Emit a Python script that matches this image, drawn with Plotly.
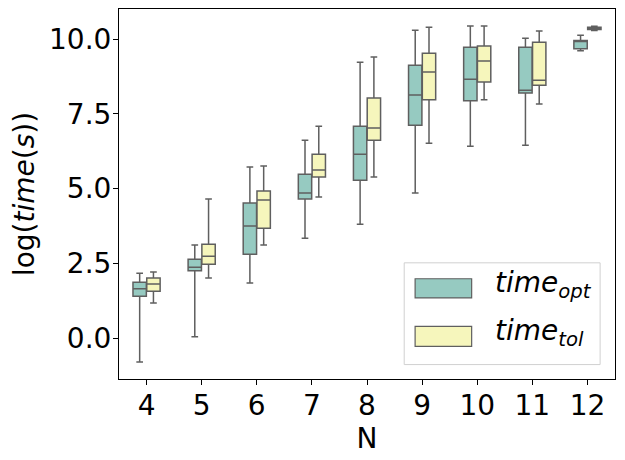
import plotly.graph_objects as go

# box statistics (log of time in seconds)
n_values = ["4", "5", "6", "7", "8", "9", "10", "11", "12"]

opt_low = [-0.80, 0.04, 1.84, 3.34, 3.81, 4.85, 6.42, 6.45, 9.61]
opt_q1 = [1.40, 2.25, 2.80, 4.65, 5.28, 7.12, 7.94, 8.20, 9.68]
opt_med = [1.65, 2.37, 3.75, 4.85, 6.15, 8.13, 8.66, 8.29, 9.92]
opt_q3 = [1.87, 2.64, 4.52, 5.48, 7.09, 9.13, 9.73, 9.73, 9.96]
opt_high = [2.17, 3.11, 5.72, 6.62, 9.23, 10.30, 10.44, 10.03, 10.13]

tol_low = [1.17, 2.01, 3.11, 4.72, 5.39, 6.52, 7.97, 7.83, 10.29]
tol_q1 = [1.57, 2.47, 3.67, 5.39, 6.62, 7.97, 8.57, 8.46, 10.32]
tol_med = [1.81, 2.74, 4.62, 5.62, 7.03, 8.90, 9.27, 8.63, 10.36]
tol_q3 = [2.01, 3.14, 4.92, 6.15, 8.03, 9.53, 9.77, 9.90, 10.40]
tol_high = [2.21, 4.65, 5.76, 7.09, 9.40, 10.40, 10.44, 10.27, 10.43]

y_ticks = [0, 2.5, 5, 7.5, 10]

opt_color = "#96cac1"
tol_color = "#f6f6bc"
edge_color = "#5f5f5f"
font_family = "DejaVu Sans"
font_size = 28

fig = go.Figure()

fig.add_trace(go.Box(x=n_values, q1=opt_q1, median=opt_med, q3=opt_q3,
                     lowerfence=opt_low, upperfence=opt_high,
                     name="opt", offsetgroup="opt",
                     fillcolor=opt_color,
                     line=dict(color=edge_color, width=1.5),
                     whiskerwidth=0.5, boxpoints=False, showlegend=False,
                     hoverinfo="skip"))

fig.add_trace(go.Box(x=n_values, q1=tol_q1, median=tol_med, q3=tol_q3,
                     lowerfence=tol_low, upperfence=tol_high,
                     name="tol", offsetgroup="tol",
                     fillcolor=tol_color,
                     line=dict(color=edge_color, width=1.5),
                     whiskerwidth=0.5, boxpoints=False, showlegend=False,
                     hoverinfo="skip"))

# hand made legend, matplotlib style (wide patches)
legend_items = [("opt", opt_color, 0.219, 0.271),
                ("tol", tol_color, 0.088, 0.142)]
shapes = [dict(type="rect", xref="paper", yref="paper",
               x0=0.575, x1=0.970, y0=0.039, y1=0.314,
               line=dict(color="#d0d0d0", width=1), fillcolor="rgba(255,255,255,0.8)")]
annotations = []
for label, color, y0, y1 in legend_items:
    shapes.append(dict(type="rect", xref="paper", yref="paper",
                       x0=0.597, x1=0.711, y0=y0, y1=y1,
                       line=dict(color=edge_color, width=1.2), fillcolor=color))
    annotations.append(dict(xref="paper", yref="paper", x=0.755, y=(y0 + y1) / 2 + 0.01,
                            xanchor="left", yanchor="middle", showarrow=False,
                            text=f"<i>time</i><sub><i>{label}</i></sub>",
                            font=dict(size=font_size, color="black", family=font_family)))

# the page has an 8px body margin, so the figure is sized to fit inside the window
fig.update_layout(
    width=617, height=452,
    margin=dict(l=111, r=10, t=1, b=81),
    plot_bgcolor="white", paper_bgcolor="white",
    boxmode="group", boxgap=0.5, boxgroupgap=0.03,
    font=dict(family=font_family, size=font_size, color="black"),
    shapes=shapes, annotations=annotations,
)

fig.update_xaxes(type="category", range=[-0.5, 8.5], automargin=False,
                 showline=True, mirror=True, linecolor="black", linewidth=1,
                 ticks="outside", ticklen=5, tickcolor="black", ticklabelstandoff=-4,
                 showgrid=False, tickfont=dict(size=font_size),
                 title=dict(text="N", font=dict(size=font_size), standoff=2))

fig.update_yaxes(range=[-1.37, 11.01], tickvals=y_ticks, tickformat=".1f",
                 automargin=False,
                 showline=True, mirror=True, linecolor="black", linewidth=1,
                 ticks="outside", ticklen=5, tickcolor="black", ticklabelstandoff=-4,
                 showgrid=False, zeroline=False, tickfont=dict(size=font_size),
                 title=dict(text="log(<i>time</i>(<i>s</i>))", font=dict(size=font_size), standoff=6))

fig.write_html("out.html")
